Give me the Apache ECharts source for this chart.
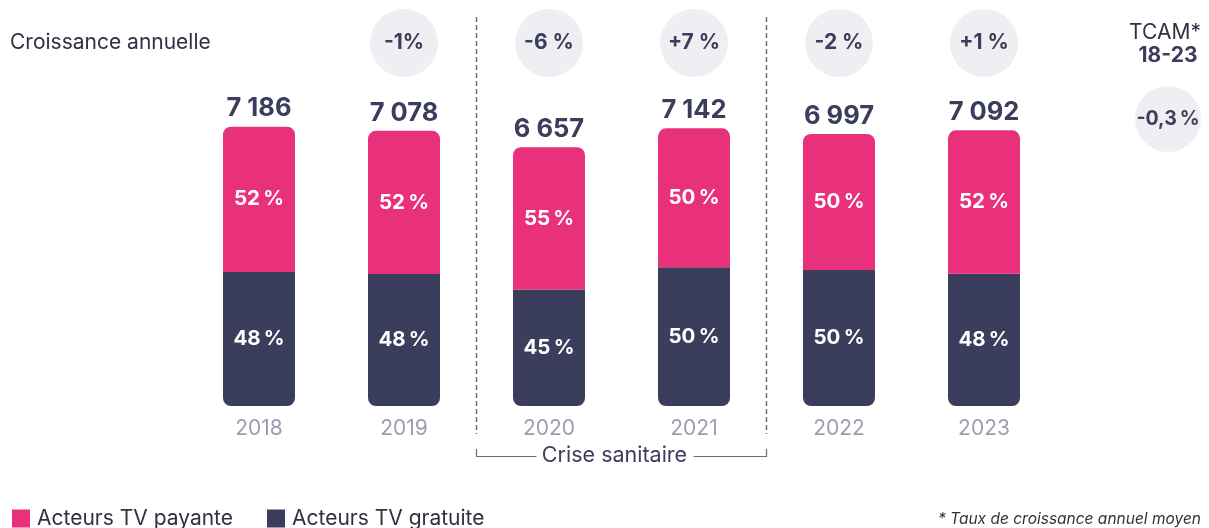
<!DOCTYPE html>
<html><head><meta charset="utf-8">
<script src="https://cdn.jsdelivr.net/npm/echarts@6/dist/echarts.min.js"></script>
<style>html,body{margin:0;padding:0;background:#fff}#c{width:1209px;height:528px}</style>
</head><body><div id="c"></div>
<script>
const years = ['2018','2019','2020','2021','2022','2023'];
const totals = [7186, 7078, 6657, 7142, 6997, 7092];
const payante = [3737, 3681, 3661, 3571, 3499, 3688];
const gratuite = [3449, 3397, 2996, 3571, 3498, 3404];
const sharePayante = ['52\u2009%', '52\u2009%', '55\u2009%', '50\u2009%', '50\u2009%', '52\u2009%'];
const shareGratuite = ['48\u2009%', '48\u2009%', '45\u2009%', '50\u2009%', '50\u2009%', '48\u2009%'];
const growthYears = ['2019','2020','2021','2022','2023'];
const growthLabels = ['-1%', '-6 %', '+7 %', '-2 %', '+1 %'];
const tcam = '-0,3\u2009%';

const PINK = '#e8317a', NAVY = '#3b3d5c', FONT = 'Inter, "Noto Sans", sans-serif';
const chart = echarts.init(document.getElementById('c'));
chart.setOption({
  animation: false,
  textStyle: { fontFamily: FONT },
  grid: { left: 186.5, right: 152.5, top: 95, bottom: 122 },
  legend: {
    left: 12, top: 508, itemWidth: 18, itemHeight: 18, itemGap: 34, padding: 0,
    icon: 'rect',
    textStyle: { fontSize: 21, color: '#2f3142', fontFamily: FONT, padding: [0,0,0,2] },
    data: ['Acteurs TV payante', 'Acteurs TV gratuite']
  },
  xAxis: {
    type: 'category', data: years,
    axisLine: { show: false }, axisTick: { show: false },
    axisLabel: { color: '#9d9db0', fontSize: 21, margin: 12, fontFamily: FONT }
  },
  yAxis: { type: 'value', min: 0, max: 8000, show: false, splitLine: { show: false } },
  series: [
    {
      name: 'Acteurs TV gratuite', type: 'bar', stack: 't', barWidth: 72,
      data: gratuite,
      itemStyle: { color: NAVY, borderRadius: [0, 0, 8, 8] },
      label: { show: true, position: 'inside', color: '#fff', fontSize: 20.5, fontWeight: 'bold', fontFamily: FONT,
        formatter: p => shareGratuite[p.dataIndex] }
    },
    {
      name: 'Acteurs TV payante', type: 'bar', stack: 't', barWidth: 72,
      data: payante,
      itemStyle: { color: PINK, borderRadius: [8, 8, 0, 0] },
      label: { show: true, position: 'inside', color: '#fff', fontSize: 20.5, fontWeight: 'bold', fontFamily: FONT,
        formatter: p => sharePayante[p.dataIndex] }
    },
    {
      name: 'total', type: 'bar', stack: 't', barWidth: 72,
      data: totals.map(() => 0), itemStyle: { color: 'transparent' },
      label: { show: true, position: 'top', distance: 5, color: NAVY, fontSize: 25.5, fontWeight: 'bold', fontFamily: FONT,
        formatter: p => totals[p.dataIndex].toLocaleString('fr-FR').replace(/\s/g, ' ') }
    }
  ]
});

function px(cat) { return chart.convertToPixel({ xAxisIndex: 0 }, cat); }
const g = [];
g.push({ type: 'text', left: 10, top: -19, style: { text: "(en millions d'euros)", fontSize: 20, fontStyle: 'italic', fill: '#333', fontFamily: FONT } });
g.push({ type: 'text', x: 10, y: 43, style: { text: 'Croissance annuelle', fontSize: 21, fill: '#2f3142', verticalAlign: 'middle', fontFamily: FONT } });
growthYears.forEach((y, i) => {
  const x = px(y);
  g.push({ type: 'circle', shape: { cx: x, cy: 43, r: 34 }, style: { fill: '#efeff3' } });
  g.push({ type: 'text', x: x, y: 43, style: { text: growthLabels[i], fontSize: 21, fontWeight: 'bold', fill: NAVY, align: 'center', verticalAlign: 'middle', fontFamily: FONT } });
});
// TCAM
g.push({ type: 'text', x: 1165, y: 33, style: { text: 'TCAM*', fontSize: 21, fill: '#2f3142', align: 'center', verticalAlign: 'middle', fontFamily: FONT } });
g.push({ type: 'text', x: 1168, y: 56, style: { text: '18-23', fontSize: 21, fontWeight: 'bold', fill: NAVY, align: 'center', verticalAlign: 'middle', fontFamily: FONT } });
g.push({ type: 'circle', shape: { cx: 1168, cy: 119, r: 33 }, style: { fill: '#efeff3' } });
g.push({ type: 'text', x: 1168, y: 119, style: { text: tcam, fontSize: 19.5, fontWeight: 'bold', fill: NAVY, align: 'center', verticalAlign: 'middle', fontFamily: FONT } });
// dashed separators
const xl = (px('2019') + px('2020')) / 2, xr = (px('2021') + px('2022')) / 2;
[xl, xr].forEach(x => g.push({ type: 'line', shape: { x1: x, y1: 17, x2: x, y2: 434 }, style: { stroke: '#6b6b7d', lineWidth: 1.5, lineDash: [5, 3] } }));
// bracket
const bc = (xl + xr) / 2;
g.push({ type: 'polyline', shape: { points: [[xl, 449], [xl, 456.5], [bc - 85, 456.5]] }, style: { stroke: '#6b6b7d', lineWidth: 1.2, fill: null } });
g.push({ type: 'polyline', shape: { points: [[bc + 72, 456.5], [xr, 456.5], [xr, 449]] }, style: { stroke: '#6b6b7d', lineWidth: 1.2, fill: null } });
g.push({ type: 'text', x: bc - 7, y: 456, style: { text: 'Crise sanitaire', fontSize: 21.5, fill: NAVY, align: 'center', verticalAlign: 'middle', fontFamily: FONT } });
// footnote
g.push({ type: 'text', right: 8, top: 511, style: { text: '* Taux de croissance annuel moyen', fontSize: 15.5, fontStyle: 'italic', fill: '#333', fontFamily: FONT } });
chart.setOption({ graphic: g });
</script>
</body></html>
